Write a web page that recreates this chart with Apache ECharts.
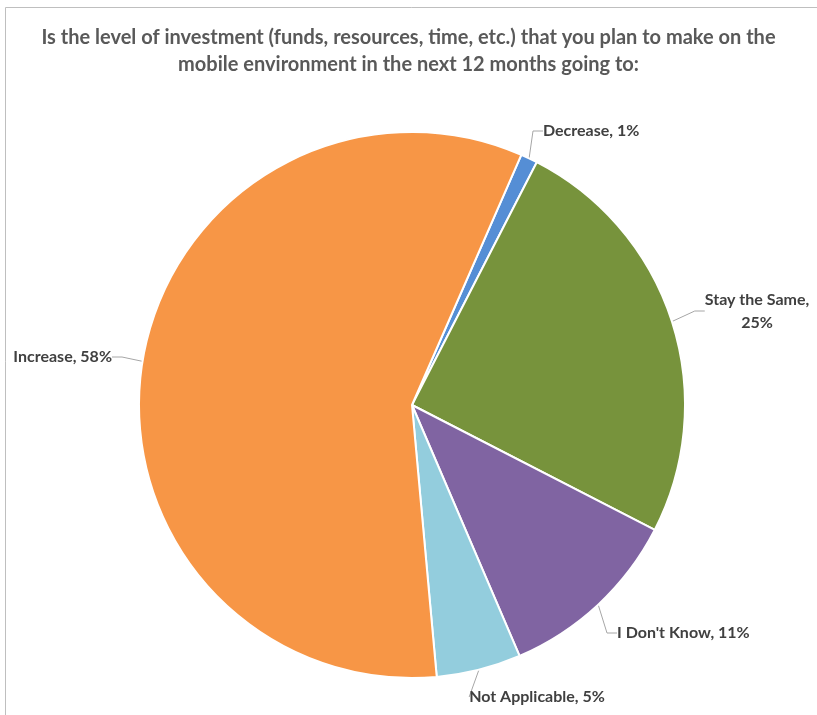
<!DOCTYPE html>
<html>
<head>
<meta charset="utf-8">
<script src="https://cdn.jsdelivr.net/npm/echarts@6/dist/echarts.min.js"></script>
<style>
  html, body { margin: 0; padding: 0; background: #fff; }
  #chart { width: 817px; height: 715px; }
</style>
</head>
<body>
<div id="chart"></div>
<script>
// Survey answers, in the order the slices run clockwise
const categories = ['Decrease', 'Stay the Same', "I Don't Know", 'Not Applicable', 'Increase'];
const shares = [1, 25, 11, 5, 58];
const sliceColors = ['#558ED5', '#77933C', '#8064A2', '#93CDDD', '#F79646'];
const titleText = 'Is the level of investment (funds, resources, time, etc.) that you plan to make on the\nmobile environment in the next 12 months going to:';

// Where each data label sits, with its alignment
const labelSpots = [
  { x: 543, y: 131, align: 'left' },
  { x: 757, y: 311, align: 'center' },
  { x: 617, y: 633, align: 'left' },
  { x: 537, y: 697, align: 'center' },
  { x: 112, y: 357, align: 'right' }
];

const chart = echarts.init(document.getElementById('chart'));
chart.setOption({
  animation: false,
  title: {
    text: titleText,
    left: 'center',
    top: 19,
    textStyle: {
      fontFamily: 'Lato',
      fontWeight: 'bold',
      fontSize: 20,
      color: '#595959',
      lineHeight: 27
    }
  },
  graphic: [{
    type: 'polyline',
    shape: { points: [[5.5, 715], [5.5, 7.5], [817, 7.5]] },
    style: { stroke: '#BFBFBF', lineWidth: 1, fill: null }
  }],
  series: [{
    type: 'pie',
    center: [412, 405],
    radius: 273,
    startAngle: 66.4,
    clockwise: true,
    itemStyle: { borderColor: '#fff', borderWidth: 2 },
    label: {
      show: true,
      formatter: p => p.dataIndex === 1 ? p.name + ',\n' + p.value + '%' : p.name + ', ' + p.value + '%',
      fontFamily: 'Lato',
      fontWeight: 'bold',
      fontSize: 16,
      lineHeight: 23,
      color: '#404040',
      align: 'center'
    },
    labelLine: {
      show: true,
      length: 12,
      length2: 10,
      lineStyle: { color: '#A6A6A6', width: 1 }
    },
    labelLayout: p => {
      const s = labelSpots[p.dataIndex];
      return { x: s.x, y: s.y, align: s.align, verticalAlign: 'middle' };
    },
    emphasis: { disabled: true },
    data: categories.map((name, i) => ({
      name,
      value: shares[i],
      itemStyle: { color: sliceColors[i] }
    }))
  }]
});
</script>
</body>
</html>
